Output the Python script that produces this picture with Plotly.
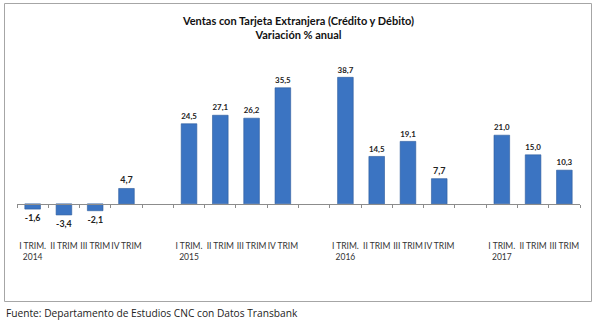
import numpy as np
import plotly.graph_objects as go

# ---- data ----
quarters = ["I TRIM.", "II TRIM", "III TRIM", "IV TRIM",
            "I TRIM.", "II TRIM", "III TRIM", "IV TRIM",
            "I TRIM.", "II TRIM", "III TRIM", "IV TRIM",
            "I TRIM.", "II TRIM", "III TRIM"]
years = ["2014", "", "", "",
         "2015", "", "", "",
         "2016", "", "", "",
         "2017", "", ""]
group_index = [0, 0, 0, 0, 1, 1, 1, 1, 2, 2, 2, 2, 3, 3, 3]
quarter_index = [0, 1, 2, 3, 0, 1, 2, 3, 0, 1, 2, 3, 0, 1, 2]
values = [-1.6, -3.4, -2.1, 4.7,
          24.5, 27.1, 26.2, 35.5,
          38.7, 14.5, 19.1, 7.7,
          21.0, 15.0, 10.3]

title_lines = ["Ventas con Tarjeta Extranjera (Crédito y Débito)", "Variación % anual"]
source_text = "Fuente: Departamento de Estudios CNC con Datos Transbank"

# ---- layout helpers ----
W, H = 596, 322
ML, MR, MT, MB = 17, 16, 60, 92
pw, ph = W - ML - MR, H - MT - MB
YMIN, YMAX = -8, 44

xpos = [g * 5 + q for g, q in zip(group_index, quarter_index)]
nslots = max(xpos) + 1
xr = [-0.5, nslots - 0.5]
ticktext = [q + ("<br>" + y if y else "<br> ") for q, y in zip(quarters, years)]
labels = [f"{v:.1f}".replace(".", ",") for v in values]

def px_to_paper_x(px):
    return (px - ML) / pw

def px_to_paper_y(py):
    return (H - MB - py) / ph

font_fam = "Lato, 'Liberation Sans', Arial, sans-serif"

fig = go.Figure()
fig.add_trace(go.Bar(
    x=xpos, y=values, width=0.5,
    marker=dict(color="#3B74C2", line=dict(color="#2B5A9C", width=0.6)),
    text=labels, textposition="outside", cliponaxis=False,
    textfont=dict(family=font_fam, size=9, color="#222222", weight="bold"),
    hoverinfo="skip",
))
# invisible trace on the zero-line axis so it gets drawn
fig.add_trace(go.Scatter(
    x=xpos, y=values, xaxis="x2", mode="markers",
    marker=dict(opacity=0), hoverinfo="skip", showlegend=False,
))

zero_pos = (0 - YMIN) / (YMAX - YMIN)

fig.update_layout(
    width=W, height=H,
    margin=dict(l=ML, r=MR, t=MT, b=MB),
    paper_bgcolor="white", plot_bgcolor="white",
    showlegend=False,
    title=dict(
        text="<b>" + "<br>".join(title_lines) + "</b>",
        x=0.5, xref="paper", xanchor="center",
        y=1 - 25 / H, yref="container", yanchor="middle",
        font=dict(family=font_fam, size=11, color="#111111"),
    ),
    xaxis=dict(
        range=xr, tickvals=xpos, ticktext=ticktext,
        showline=False, showgrid=False, zeroline=False,
        ticks="outside", ticklen=8, tickcolor="rgba(0,0,0,0)",
        tickfont=dict(family=font_fam, size=8.5, color="#333333"),
        tickangle=0, fixedrange=True,
    ),
    xaxis2=dict(
        range=xr, overlaying="x", anchor="free", position=zero_pos,
        tickvals=list(np.arange(-0.5, nslots, 1.0)),
        showticklabels=False, showline=True, linecolor="#8C8C8C", linewidth=1,
        ticks="outside", ticklen=3, tickcolor="#8C8C8C",
        showgrid=False, zeroline=False, fixedrange=True,
    ),
    yaxis=dict(range=[YMIN, YMAX], visible=False, fixedrange=True),
    shapes=[dict(
        type="rect", xref="paper", yref="paper",
        x0=px_to_paper_x(4.5), x1=px_to_paper_x(591.5),
        y0=px_to_paper_y(301.5), y1=px_to_paper_y(3.5),
        line=dict(color="#A6A6A6", width=1), fillcolor="rgba(0,0,0,0)",
    )],
    annotations=[dict(
        text=source_text, xref="paper", yref="paper",
        x=px_to_paper_x(4), y=px_to_paper_y(313),
        xanchor="left", yanchor="middle", showarrow=False,
        font=dict(family="'Open Sans', 'Noto Sans', sans-serif", size=10.2, color="#222222"),
    )],
)

fig.write_html("out.html")
